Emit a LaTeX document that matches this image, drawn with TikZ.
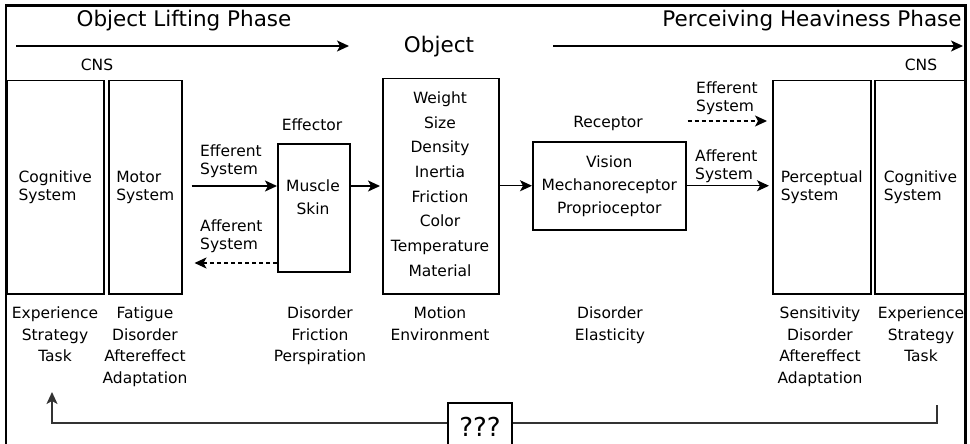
\documentclass[tikz,border=0pt]{standalone}
\usepackage{fontspec}
\setmainfont{DejaVu Sans}
\usetikzlibrary{arrows.meta,calc}
\begin{document}
\begin{tikzpicture}[x=1pt,y=-1pt,
  box/.style={draw,line width=1.5pt,inner sep=0pt},
  lbl/.style={font=\fontsize{15.5}{18}\selectfont,inner sep=0pt,align=left},
  ctr/.style={font=\fontsize{15.5}{18}\selectfont,inner sep=0pt,align=center},
  bot/.style={font=\fontsize{15.5}{21.5}\selectfont,inner sep=0pt,align=center,anchor=north},
  big/.style={font=\fontsize{21.5}{24}\selectfont,inner sep=0pt},
  tip/.style={-{Stealth[length=12pt,width=11pt,inset=3pt]}},
  arr/.style={line width=1.4pt,tip},
  dsh/.style={arr,dash pattern=on 4pt off 3pt},
  fb/.style={line width=1.5pt,draw=black!80}]
\useasboundingbox (0,0) rectangle (970,444);
\clip (0,0) rectangle (970,444);
% frame
\draw[line width=2.8pt] (6,460) -- (6,5.5) -- (965.5,5.5) -- (965.5,460);
% titles
\node[big] (t1) at (184,21) {Object Lifting Phase};
\node[big] (t2) at (812,21) {Perceiving Heaviness Phase};
\node[big] (objt) at (439,47) {Object};
\coordinate (a1s) at (16,46);
\coordinate (a1e) at (349,46);
\coordinate (a2s) at (553,46);
\coordinate (a2e) at (963,46);
\draw[arr] (a1s) -- (a1e);
\draw[arr] (a2s) -- (a2e);
\node[ctr] (cns1) at (97,65) {CNS};
\node[ctr] (cns2) at (921,65) {CNS};
% boxes
\node[box,lbl,minimum width=97pt,minimum height=213pt,anchor=north west] (cogL) at (6,80) {Cognitive\\System};
\node[box,lbl,minimum width=73pt,minimum height=213pt,anchor=north west] (motor) at (108,80) {Motor\\System};
\node[box,minimum width=72pt,minimum height=128pt,anchor=north west] (muscle) at (277,143) {};
\node[font=\fontsize{15.5}{23}\selectfont,inner sep=0pt,align=center] (mtext) at (313,197.5) {Muscle\\Skin};
\node[ctr] (eff) at (312,125) {Effector};
\node[box,minimum width=116pt,minimum height=215pt,anchor=north west] (obj) at (382,78) {};
\node[font=\fontsize{15.5}{24.7}\selectfont,inner sep=0pt,align=center] (otext) at (440,184) {Weight\\Size\\Density\\Inertia\\Friction\\Color\\Temperature\\Material};
\node[box,font=\fontsize{15.5}{23}\selectfont,align=center,minimum width=153pt,minimum height=88pt,anchor=north west] (rec) at (532,141) {Vision\\Mechanoreceptor\\Proprioceptor};
\node[ctr] (recl) at (608,123) {Receptor};
\node[box,lbl,minimum width=98pt,minimum height=213pt,anchor=north west] (perc) at (772,80) {Perceptual\\System};
\node[box,lbl,minimum width=91.5pt,minimum height=213pt,anchor=north west] (cogR) at (874,80) {Cognitive\\System};
% arrow labels
\node[lbl,anchor=west] (ef1) at (200,161) {Efferent\\System};
\node[lbl,anchor=west] (af1) at (200,236) {Afferent\\System};
\node[lbl,anchor=west] (ef2) at (696,98) {Efferent\\System};
\node[lbl,anchor=west] (af2) at (695,166) {Afferent\\System};
% connectors
\coordinate (yl) at (0,186);
\coordinate (yd) at (0,263);
\coordinate (yt) at (0,121);
\draw[arr,shorten <=9pt] (motor.east |- yl) -- (muscle.west |- yl);
\draw[dsh,shorten >=12pt] (muscle.west |- yd) -- (motor.east |- yd);
\draw[arr,shorten >=2pt] (muscle.east |- yl) -- (obj.west |- yl);
\draw[arr] (obj.east |- rec.west) -- (rec.west);
\draw[arr,shorten >=3pt] (rec.east) -- (perc.west |- rec.east);
\draw[dsh,shorten >=5pt,shorten <=1pt] (rec.east |- yt) -- (perc.west |- yt);
% bottom texts
\node[bot] (b1) at (55,307) {Experience\\Strategy\\Task};
\node[bot] (b2) at (145,307) {Fatigue\\Disorder\\Aftereffect\\Adaptation};
\node[bot] (b3) at (320,307) {Disorder\\Friction\\Perspiration};
\node[bot] (b4) at (440,307) {Motion\\Environment};
\node[bot] (b5) at (610,307) {Disorder\\Elasticity};
\node[bot] (b6) at (820,307) {Sensitivity\\Disorder\\Aftereffect\\Adaptation};
\node[bot] (b7) at (921,307) {Experience\\Strategy\\Task};
% feedback
\node[draw,line width=1.5pt,font=\fontsize{26}{28}\selectfont,minimum width=64pt,minimum height=48pt,inner sep=0pt] (qq) at (480,427) {???};
\coordinate (fbR) at (937,405);
\coordinate (fbL) at (52,392);
\coordinate (fy) at (0,423);
\draw[fb] (fbR) |- (qq.east |- fy);
\draw[fb,tip] (qq.west |- fy) -| (fbL);
\end{tikzpicture}
\end{document}
